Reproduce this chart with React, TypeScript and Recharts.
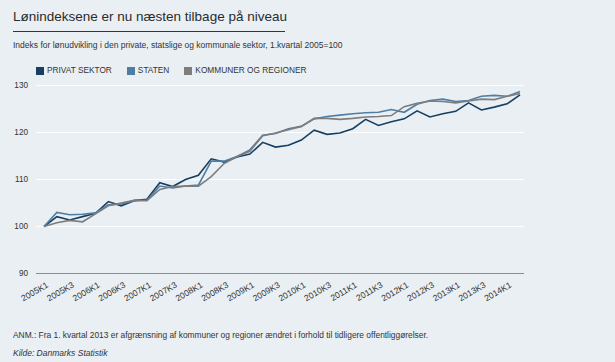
import React from 'react';
import { LineChart, Line, XAxis, YAxis, CartesianGrid } from 'recharts';

const categories = [
  '2005K1', '2005K2', '2005K3', '2005K4',
  '2006K1', '2006K2', '2006K3', '2006K4',
  '2007K1', '2007K2', '2007K3', '2007K4',
  '2008K1', '2008K2', '2008K3', '2008K4',
  '2009K1', '2009K2', '2009K3', '2009K4',
  '2010K1', '2010K2', '2010K3', '2010K4',
  '2011K1', '2011K2', '2011K3', '2011K4',
  '2012K1', '2012K2', '2012K3', '2012K4',
  '2013K1', '2013K2', '2013K3', '2013K4',
  '2014K1', '2014K2',
];

const privat = [
  100, 102.1, 101.4, 102.1,
  102.8, 105.3, 104.4, 105.5,
  105.8, 109.3, 108.5, 110.0,
  110.9, 114.4, 113.7, 114.8,
  115.4, 117.9, 116.9, 117.3,
  118.4, 120.5, 119.6, 119.9,
  120.8, 122.8, 121.5, 122.3,
  122.9, 124.6, 123.3, 124.0,
  124.5, 126.3, 124.8, 125.4,
  126.1, 128.0,
];

const staten = [
  100, 103.0, 102.5, 102.6,
  102.9, 104.6, 104.8, 105.5,
  105.6, 108.6, 108.2, 108.6,
  108.8, 113.9, 113.9, 114.9,
  116.3, 119.4, 119.8, 120.8,
  121.3, 122.9, 123.4, 123.7,
  124.0, 124.2, 124.3, 124.9,
  124.3, 126.0, 126.8, 127.1,
  126.6, 126.8, 127.7, 127.9,
  127.7, 128.7,
];

const kommuner = [
  100, 100.8, 101.3, 101.0,
  102.7, 104.4, 105.0, 105.6,
  105.5, 107.9, 108.5, 108.6,
  108.6, 110.6, 113.4, 114.9,
  116.0, 119.3, 119.9, 120.6,
  121.3, 123.0, 123.0, 122.8,
  123.0, 123.3, 123.4, 123.6,
  125.5, 126.2, 126.7, 126.6,
  126.3, 126.7, 127.1, 127.0,
  127.7, 128.3,
];

const yTicks = [90, 100, 110, 120, 130];

const seriesNames = ['PRIVAT SEKTOR', 'STATEN', 'KOMMUNER OG REGIONER'];
const seriesKeys = ['privat', 'staten', 'kommuner'];
const seriesColors = ['#163f62', '#4e7ea6', '#7d7d7d'];

const data = categories.map((c, i) => ({
  cat: c,
  privat: privat[i],
  staten: staten[i],
  kommuner: kommuner[i],
}));

const FONT = '"Liberation Sans", Arial, sans-serif';

const XTick = (props: any) => {
  const { x, y, payload } = props;
  return (
    <text
      x={x + 2}
      y={y}
      dy={6}
      transform={`rotate(-30, ${x + 2}, ${y})`}
      textAnchor="end"
      fontSize={8.6}
      fontFamily={FONT}
      fill="#333"
    >
      {payload.value}
    </text>
  );
};

export default function App() {
  return (
    <div
      style={{
        position: 'absolute',
        left: 0,
        top: 0,
        width: 615,
        height: 362,
        background: '#eaeff4',
        fontFamily: FONT,
        overflow: 'hidden',
      }}
    >
      <div style={{ position: 'absolute', left: 0, top: 0 }}>
        <LineChart
          width={615}
          height={362}
          data={data}
          margin={{ top: 85.5, right: 91, bottom: 58.5, left: 0 }}
        >
          <CartesianGrid horizontal vertical={false} stroke="#ffffff" strokeWidth={1} />
          <XAxis
            dataKey="cat"
            interval={1}
            tickLine={false}
            axisLine={{ stroke: '#8c8c8c' }}
            padding={{ left: 8, right: 4 }}
            height={30}
            tick={<XTick />}
          />
          <YAxis
            domain={[90, 130]}
            ticks={yTicks}
            width={36}
            axisLine={false}
            tickLine={false}
            tick={{ fontSize: 8.2, fill: '#333', fontFamily: FONT }}
          />
          {seriesKeys.map((k, i) => (
            <Line
              key={k}
              type="linear"
              dataKey={k}
              name={seriesNames[i]}
              stroke={seriesColors[i]}
              strokeWidth={1.6}
              dot={false}
              isAnimationActive={false}
            />
          ))}
        </LineChart>
      </div>

      <div
        style={{
          position: 'absolute',
          left: 13,
          top: 9,
          fontSize: 13.5,
          color: '#2b2b2b',
          whiteSpace: 'nowrap',
          lineHeight: '16px',
        }}
      >
        Lønindeksene er nu næsten tilbage på niveau
      </div>
      <div
        style={{
          position: 'absolute',
          left: 13,
          top: 30.5,
          width: 272,
          height: 1,
          background: '#1f3a5a',
        }}
      />
      <div
        style={{
          position: 'absolute',
          left: 13,
          top: 40,
          fontSize: 8.5,
          color: '#333',
          whiteSpace: 'nowrap',
          lineHeight: '10px',
        }}
      >
        Indeks for lønudvikling i den private, statslige og kommunale sektor, 1.kvartal 2005=100
      </div>

      <div
        style={{
          position: 'absolute',
          left: 36,
          top: 66,
          display: 'flex',
          alignItems: 'center',
          fontSize: 8.3,
          color: '#333',
          whiteSpace: 'nowrap',
          lineHeight: '9px',
        }}
      >
        {seriesNames.map((n, i) => (
          <div key={n} style={{ display: 'flex', alignItems: 'center', marginRight: 15 }}>
            <div style={{ width: 8, height: 8, background: seriesColors[i], marginRight: 3 }} />
            <span>{n}</span>
          </div>
        ))}
      </div>

      <div
        style={{
          position: 'absolute',
          left: 13,
          top: 330,
          fontSize: 8.4,
          color: '#333',
          whiteSpace: 'nowrap',
          lineHeight: '10px',
        }}
      >
        ANM.: Fra 1. kvartal 2013 er afgrænsning af kommuner og regioner ændret i forhold til tidligere offentliggørelser.
      </div>
      <div
        style={{
          position: 'absolute',
          left: 13,
          top: 348,
          fontSize: 8.5,
          color: '#333',
          fontStyle: 'italic',
          whiteSpace: 'nowrap',
          lineHeight: '10px',
        }}
      >
        Kilde: Danmarks Statistik
      </div>
    </div>
  );
}
